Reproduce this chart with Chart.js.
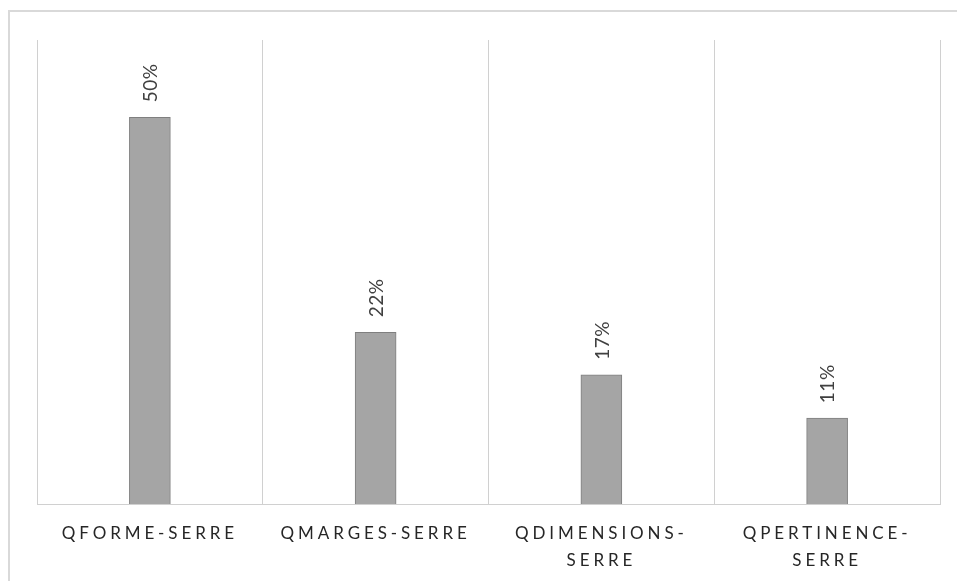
<!DOCTYPE html>
<html>
<head>
    <script src="https://cdn.jsdelivr.net/npm/chart.js@4.4.1/dist/chart.umd.min.js"></script>
    <style>
        body { margin: 0; background: #fff; }
        #frame { position: absolute; left: 8px; top: 10px; width: 960px; height: 580px; border: 2px solid #d9d9d9; }
        #wrap { position: absolute; left: 0; top: 0; width: 957px; height: 581px; }
    </style>
</head>
<body>
<div id="frame"></div>
<div id="wrap"><canvas id="myChart"></canvas></div>

<script>
    const categories = [["QFORME-SERRE"], ["QMARGES-SERRE"], ["QDIMENSIONS-", "SERRE"], ["QPERTINENCE-", "SERRE"]];
    const values = [50, 22.2, 16.7, 11.1];
    const valueLabels = ["50%", "22%", "17%", "11%"];

    const spacing = {
        id: "spacing",
        beforeDraw(chart) { chart.ctx.letterSpacing = "3.9px"; },
        beforeDatasetsDraw(chart) { chart.ctx.letterSpacing = "0px"; }
    };

    const barLabels = {
        id: "barLabels",
        afterDatasetsDraw(chart) {
            const ctx = chart.ctx;
            const meta = chart.getDatasetMeta(0);
            ctx.save();
            ctx.font = "19px Lato";
            ctx.fillStyle = "#404040";
            ctx.textAlign = "left";
            ctx.textBaseline = "middle";
            ctx.letterSpacing = "0.5px";
            meta.data.forEach((bar, i) => {
                ctx.save();
                ctx.translate(bar.x + 1, bar.y - 15);
                ctx.rotate(-Math.PI / 2);
                ctx.fillText(valueLabels[i], 0, 0);
                ctx.restore();
            });
            ctx.restore();
        }
    };

    new Chart("myChart", {
        type: "bar",
        data: {
            labels: categories,
            datasets: [{
                data: values,
                backgroundColor: "#a5a5a5",
                borderColor: "#7f7f7f",
                borderWidth: 1,
                barThickness: 41
            }]
        },
        options: {
            responsive: true,
            maintainAspectRatio: false,
            animation: false,
            layout: { padding: { left: 37, top: 40, right: 17, bottom: 0 } },
            plugins: { legend: { display: false }, tooltip: { enabled: false } },
            scales: {
                x: {
                    afterFit: scale => { scale.height = 77; },
                    grid: { color: "#d0d0d0", drawTicks: false, offset: true },
                    border: { color: "#d0d0d0" },
                    ticks: {
                        autoSkip: false, maxRotation: 0, padding: 16,
                        color: "#262626",
                        font: { family: "Lato", size: 17, lineHeight: 1.6 }
                    }
                },
                y: { display: false, min: 0, max: 60 }
            }
        },
        plugins: [spacing, barLabels]
    });
</script>
</body>
</html>
